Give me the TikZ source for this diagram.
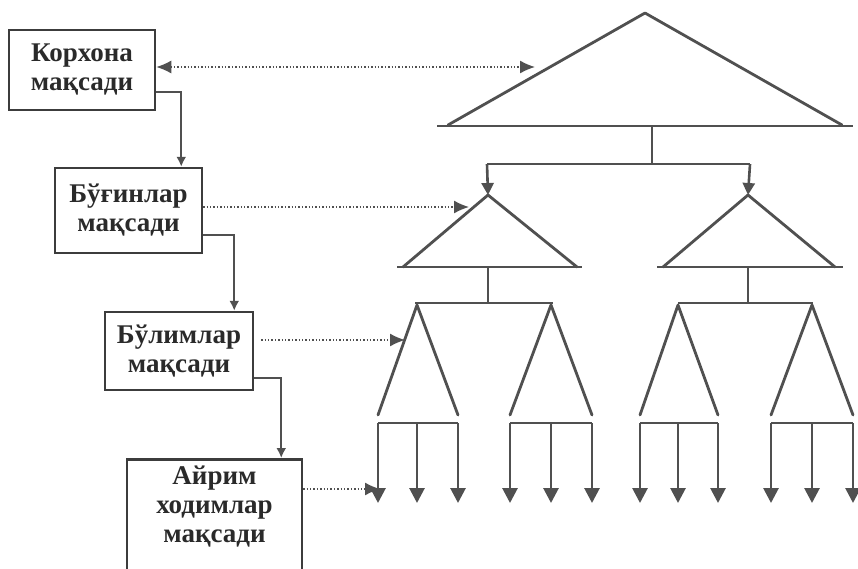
\documentclass[tikz,border=0pt]{standalone}
\usepackage{fontspec}
\setmainfont{Liberation Serif}
\usetikzlibrary{arrows.meta}
\definecolor{ln}{HTML}{505050}
\definecolor{bx}{HTML}{3C3C3C}
\definecolor{tx}{HTML}{2A2A2A}
\tikzset{
  goalbox/.style={draw=bx, line width=2.5pt, text=tx, align=center,
    font=\bfseries\fontsize{27}{29}\selectfont, inner sep=0pt},
  boxtext/.style={text=tx, align=center, font=\bfseries\fontsize{27}{29}\selectfont, inner sep=0pt},
  conn/.style={draw=ln, line width=2.4pt, -{Latex[length=10pt,width=10pt]}},
  dotarrow/.style={draw=ln, line width=1.4pt, dotted, -{Latex[length=15pt,width=13pt]}},
  dotboth/.style={draw=ln, line width=1.4pt, dotted, {Latex[length=15pt,width=13pt]}-{Latex[length=15pt,width=13pt]}},
  tri/.style={draw=ln, line width=2.8pt, line cap=round, line join=round},
  stem/.style={draw=ln, line width=2.8pt},
  down/.style={draw=ln, line width=2.8pt, -{Triangle[length=15pt,width=15pt]}},
  smalldown/.style={draw=ln, line width=2.6pt, -{Triangle[length=12pt,width=12pt]}},
}
\begin{document}
\begin{tikzpicture}[x=1pt,y=-1pt]
\useasboundingbox[fill=white] (0,0) rectangle (858,568);

% goal boxes
\node[goalbox, minimum width=146pt, minimum height=80pt] (b1) at (82,70) {Корхона\\мақсади};
\node[goalbox, minimum width=147pt, minimum height=85pt] (b2) at (128.5,210.5) {Бўғинлар\\мақсади};
\node[goalbox, minimum width=148pt, minimum height=78pt] (b3) at (179,351) {Бўлимлар\\мақсади};
\node[goalbox, minimum width=175pt, minimum height=124pt, anchor=north] (b4) at (214.5,458) {};
\node[boxtext] (b4t) at (214.5,507) {Айрим\\ходимлар\\мақсади};

% big triangle
\coordinate (TA) at (645,13);
\coordinate (TL) at (448,125);
\coordinate (TR) at (842,125);
\draw[tri] (TL) -- (TA) -- (TR);
\draw[stem] (437,126) -- (853,126);
\coordinate (Tstem) at (652,126);
\coordinate (Tsplit) at (652,164);
\draw[stem] (Tstem) -- (Tsplit);
\coordinate (hL) at (487,164);
\coordinate (hR) at (750,164);
\draw[stem] (hL) -- (hR);

% middle triangles
\coordinate (LA) at (488,195);
\coordinate (RA) at (748,195);
\draw[smalldown] (hL) -- (LA);
\draw[smalldown] (hR) -- (RA);
\draw[tri] (403,267) -- (LA) -- (577,267);
\draw[tri] (663,267) -- (RA) -- (835,267);
\draw[stem] (397,267) -- (582,267);
\draw[stem] (657,267) -- (843,267);
\coordinate (Ls) at (488,267);
\coordinate (Rs) at (748,267);
\coordinate (Lh) at (488,303);
\coordinate (Rh) at (748,303);
\draw[stem] (Ls) -- (Lh);
\draw[stem] (Rs) -- (Rh);
\draw[stem] (415,303) -- (553,303);
\draw[stem] (678,303) -- (813,303);

% thin triangles with three arrows each
\foreach \a/\l/\r [count=\i] in {417/378/458, 551/510/592, 678/640/718, 812/771/853}{
  \coordinate (s\i a) at (\a,305);
  \draw[tri] (\l,415) -- (s\i a) -- (\r,415);
  \draw[stem] (\l,423) -- (\r,423);
  \draw[down] (\l,423) -- (\l,503);
  \draw[down] (\a,423) -- (\a,503);
  \draw[down] (\r,423) -- (\r,503);
}
\coordinate (p1) at (380,489);

% targets on triangle sides
\coordinate (g1) at (535,67);
\coordinate (g2) at (469,207);
\coordinate (g3) at (405,340);

% dotted links
\draw[dotboth] ([yshift=3pt]b1.east) -- (g1);
\draw[dotarrow] ([yshift=3.5pt]b2.east) -- (g2);
\draw[dotarrow] ([xshift=7pt,yshift=11pt]b3.east) -- (g3);
\draw[dotarrow] ([yshift=-31pt]b4.north east) -- (p1);

% elbow connectors
\draw[conn] ([yshift=-22pt]b1.east) -| ([xshift=-22pt]b2.north east);
\draw[conn] ([yshift=-24.5pt]b2.east) -| ([xshift=-20pt]b3.north east);
\draw[conn] ([yshift=-27pt]b3.east) -| ([xshift=-22pt]b4.north east);
\end{tikzpicture}
\end{document}
